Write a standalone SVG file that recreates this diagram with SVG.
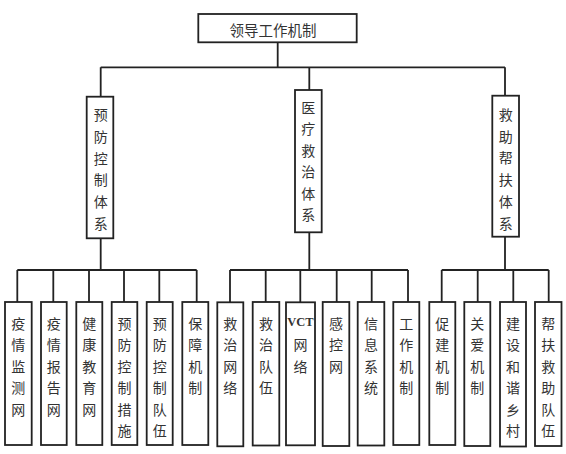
<svg xmlns="http://www.w3.org/2000/svg" width="566" height="454" viewBox="0 0 566 454">
<style>
rect{fill:#fff;stroke:#222;stroke-width:1.8}
.c path{fill:none;stroke:#222;stroke-width:1.8}
text{font-family:"Noto Sans CJK SC","Noto Sans",sans-serif;font-size:14px;fill:#333;text-anchor:middle;dominant-baseline:central}
.v{font-family:"Liberation Serif","Noto Sans CJK SC",serif;font-size:12.5px;font-weight:bold}
</style>
<rect x="0" y="0" width="566" height="454" style="fill:#fff;stroke:none"/>
<g class="c" id="connectors">
<path d="M277.7 42.3V67.3M100.7 67.3H505M100.7 67.3V96.7M309.3 67.3V90M505 67.3V95.7"/>
<path d="M100.7 238.3V270M17.3 270H196.7M17.3 270V302M53.3 270V302M89 270V302M124 270V302M159.3 270V302M196.7 270V302"/>
<path d="M309.3 232.3V270M230 270H408M230 270V302M265.7 270V302M300.3 270V302M336.7 270V302M371.7 270V302M408 270V302"/>
<path d="M505 236.7V270M441.7 270H548.7M441.7 270V302M477.7 270V302M513.3 270V302M548.7 270V302"/>
</g>
<g id="n0"><rect x="198.3" y="14" width="158.4" height="28.3"/><text x="273" y="29" style="font-size:14.5px">领导工作机制</text></g>
<g id="n1"><rect x="86.7" y="96.7" width="26.6" height="141.6"/><text x="100.7"><tspan x="100.7" y="114">预</tspan><tspan x="100.7" y="135.8">防</tspan><tspan x="100.7" y="157.6">控</tspan><tspan x="100.7" y="179.4">制</tspan><tspan x="100.7" y="201.2">体</tspan><tspan x="100.7" y="223">系</tspan></text></g>
<g id="n2"><rect x="295" y="90" width="26.7" height="142.3"/><text x="308.3"><tspan x="308.3" y="106.7">医</tspan><tspan x="308.3" y="128.2">疗</tspan><tspan x="308.3" y="149.7">救</tspan><tspan x="308.3" y="171.2">治</tspan><tspan x="308.3" y="192.7">体</tspan><tspan x="308.3" y="214.2">系</tspan></text></g>
<g id="n3"><rect x="492.3" y="95.7" width="26.7" height="141"/><text x="505.7"><tspan x="505.7" y="114">救</tspan><tspan x="505.7" y="135.7">助</tspan><tspan x="505.7" y="157.4">帮</tspan><tspan x="505.7" y="179.1">扶</tspan><tspan x="505.7" y="200.8">体</tspan><tspan x="505.7" y="222.5">系</tspan></text></g>
<g id="b1"><rect x="5" y="302" width="26.7" height="143"/><text><tspan x="18.3" y="322.5">疫</tspan><tspan x="18.3" y="344">情</tspan><tspan x="18.3" y="365.5">监</tspan><tspan x="18.3" y="387">测</tspan><tspan x="18.3" y="408.5">网</tspan></text></g>
<g id="b2"><rect x="41" y="302" width="25.7" height="143"/><text><tspan x="53.8" y="322.5">疫</tspan><tspan x="53.8" y="344">情</tspan><tspan x="53.8" y="365.5">报</tspan><tspan x="53.8" y="387">告</tspan><tspan x="53.8" y="408.5">网</tspan></text></g>
<g id="b3"><rect x="76.3" y="302" width="26" height="143"/><text><tspan x="89.3" y="322.5">健</tspan><tspan x="89.3" y="344">康</tspan><tspan x="89.3" y="365.5">教</tspan><tspan x="89.3" y="387">育</tspan><tspan x="89.3" y="408.5">网</tspan></text></g>
<g id="b4"><rect x="111.7" y="302" width="25.6" height="143"/><text><tspan x="124.5" y="322.5">预</tspan><tspan x="124.5" y="344">防</tspan><tspan x="124.5" y="365.5">控</tspan><tspan x="124.5" y="387">制</tspan><tspan x="124.5" y="408.5">措</tspan><tspan x="124.5" y="430">施</tspan></text></g>
<g id="b5"><rect x="146.7" y="302" width="26" height="143"/><text><tspan x="159.7" y="322.5">预</tspan><tspan x="159.7" y="344">防</tspan><tspan x="159.7" y="365.5">控</tspan><tspan x="159.7" y="387">制</tspan><tspan x="159.7" y="408.5">队</tspan><tspan x="159.7" y="430">伍</tspan></text></g>
<g id="b6"><rect x="182.3" y="302" width="26" height="143"/><text><tspan x="195.3" y="322.5">保</tspan><tspan x="195.3" y="344">障</tspan><tspan x="195.3" y="365.5">机</tspan><tspan x="195.3" y="387">制</tspan></text></g>
<g id="b7"><rect x="217.3" y="302.3" width="26" height="144"/><text><tspan x="230.3" y="322.5">救</tspan><tspan x="230.3" y="344">治</tspan><tspan x="230.3" y="365.5">网</tspan><tspan x="230.3" y="387">络</tspan></text></g>
<g id="b8"><rect x="252.7" y="302" width="26.6" height="143.5"/><text><tspan x="266" y="322.5">救</tspan><tspan x="266" y="344">治</tspan><tspan x="266" y="365.5">队</tspan><tspan x="266" y="387">伍</tspan></text></g>
<g id="b9"><rect x="286" y="302.3" width="29" height="143"/><text><tspan class="v" x="300.5" y="322.3">VCT</tspan><tspan x="300.5" y="344">网</tspan><tspan x="300.5" y="365.5">络</tspan></text></g>
<g id="b10"><rect x="322.7" y="302" width="26.6" height="144"/><text><tspan x="336" y="322.5">感</tspan><tspan x="336" y="344">控</tspan><tspan x="336" y="365.5">网</tspan></text></g>
<g id="b11"><rect x="357.7" y="302" width="26.6" height="143.5"/><text><tspan x="371" y="322.5">信</tspan><tspan x="371" y="344">息</tspan><tspan x="371" y="365.5">系</tspan><tspan x="371" y="387">统</tspan></text></g>
<g id="b12"><rect x="393.3" y="302" width="26" height="143"/><text><tspan x="406.3" y="322.5">工</tspan><tspan x="406.3" y="344">作</tspan><tspan x="406.3" y="365.5">机</tspan><tspan x="406.3" y="387">制</tspan></text></g>
<g id="b13"><rect x="429.3" y="302" width="26" height="143"/><text><tspan x="442.3" y="322.5">促</tspan><tspan x="442.3" y="344">建</tspan><tspan x="442.3" y="365.5">机</tspan><tspan x="442.3" y="387">制</tspan></text></g>
<g id="b14"><rect x="464.3" y="302" width="26" height="144"/><text><tspan x="477.3" y="322.5">关</tspan><tspan x="477.3" y="344">爱</tspan><tspan x="477.3" y="365.5">机</tspan><tspan x="477.3" y="387">制</tspan></text></g>
<g id="b15"><rect x="500" y="302" width="26" height="144.5"/><text><tspan x="513" y="322.5">建</tspan><tspan x="513" y="344">设</tspan><tspan x="513" y="365.5">和</tspan><tspan x="513" y="387">谐</tspan><tspan x="513" y="408.5">乡</tspan><tspan x="513" y="430">村</tspan></text></g>
<g id="b16"><rect x="535" y="302" width="26.5" height="144"/><text><tspan x="548.2" y="322.5">帮</tspan><tspan x="548.2" y="344">扶</tspan><tspan x="548.2" y="365.5">救</tspan><tspan x="548.2" y="387">助</tspan><tspan x="548.2" y="408.5">队</tspan><tspan x="548.2" y="430">伍</tspan></text></g>
</svg>
